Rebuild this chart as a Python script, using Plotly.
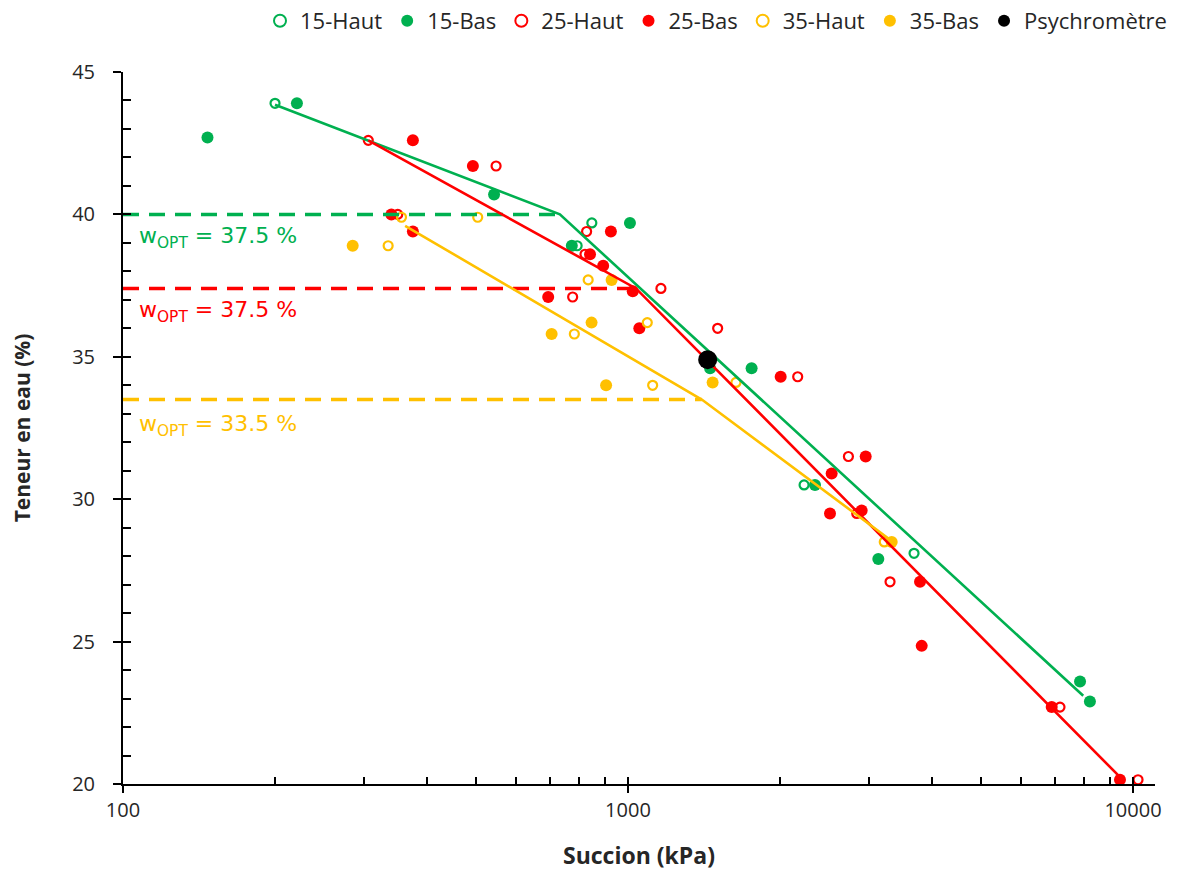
import plotly.graph_objects as go

# Succion (kPa) / teneur en eau (%) par série
haut15_x = [200, 848, 793, 2232, 3685]
haut15_y = [43.9, 39.7, 38.9, 30.5, 28.1]
bas15_x = [147, 221, 543, 774, 1009, 1454, 1757, 2346, 3131, 7855, 8217]
bas15_y = [42.7, 43.9, 40.7, 38.9, 39.7, 34.6, 34.6, 30.5, 27.9, 23.6, 22.9]

haut25_x = [306, 350, 548, 828, 822, 777, 1162, 1505, 2168, 2732, 2838, 3303, 7169, 10233]
haut25_y = [42.6, 40.0, 41.7, 39.4, 38.6, 37.1, 37.4, 36.0, 34.3, 31.5, 29.5, 27.1, 22.7, 20.15]
bas25_x = [340, 375, 493, 375, 695, 925, 841, 893, 1022, 1053, 2006, 2956, 2531, 2512,
           2902, 3787, 3816, 6903, 9424]
bas25_y = [40.0, 42.6, 41.7, 39.4, 37.1, 39.4, 38.6, 38.2, 37.3, 36.0, 34.3, 31.5, 30.9, 29.5,
           29.6, 27.1, 24.85, 22.7, 20.15]

haut35_x = [335, 356, 504, 834, 783, 1092, 1119, 1636, 3217]
haut35_y = [38.9, 39.9, 39.9, 37.7, 35.8, 36.2, 34.0, 34.1, 28.5]
bas35_x = [285, 706, 847, 905, 928, 1471, 3328]
bas35_y = [38.9, 35.8, 36.2, 34.0, 37.7, 34.1, 28.5]

psy_x = [1438]
psy_y = [34.9]

# Courbes bilinéaires ajustées
fit15_x = [200, 733, 7970]
fit15_y = [43.85, 40.0, 23.1]
fit25_x = [306, 1037, 9600]
fit25_y = [42.6, 37.4, 20.1]
fit35_x = [362, 1400, 3350]
fit35_y = [39.6, 33.5, 28.5]

# Teneurs en eau à l'optimum (niveau tracé, libellé, fin du tireté)
wopt_level = [40.0, 37.4, 33.5]
wopt_label = ["37.5 %", "37.5 %", "33.5 %"]
wopt_end = [733, 1037, 1400]

x_major = [100, 1000, 10000]
x_minor = [200, 300, 400, 500, 600, 700, 800, 900,
           2000, 3000, 4000, 5000, 6000, 7000, 8000, 9000]
y_major = [20, 25, 30, 35, 40, 45]

GREEN = "#00B050"
RED = "#FF0000"
ORANGE = "#FFC000"
colors = [GREEN, RED, ORANGE]
label_drop = [0.8, 0.8, 0.92]   # écart vertical libellé / tireté

TXT = "Open Sans, Noto Sans, sans-serif"
ANN = "DejaVu Sans, sans-serif"
INK = "#262626"

fig = go.Figure()


def open_marker(c):
    return dict(symbol="circle-open", size=9, color=c, line=dict(width=2.2, color=c))


def full_marker(c):
    return dict(symbol="circle", size=12, color=c)


series = [
    ("15-Haut", haut15_x, haut15_y, open_marker(GREEN)),
    ("15-Bas", bas15_x, bas15_y, full_marker(GREEN)),
    ("25-Haut", haut25_x, haut25_y, open_marker(RED)),
    ("25-Bas", bas25_x, bas25_y, full_marker(RED)),
    ("35-Haut", haut35_x, haut35_y, open_marker(ORANGE)),
    ("35-Bas", bas35_x, bas35_y, full_marker(ORANGE)),
]
for name, xs, ys, mk in series:
    fig.add_trace(go.Scatter(x=xs, y=ys, mode="markers", name=name, marker=mk,
                             cliponaxis=False))

# Tiretés horizontaux de w_OPT
for lvl, xe, c in zip(wopt_level, wopt_end, colors):
    fig.add_trace(go.Scatter(x=[100, xe], y=[lvl, lvl], mode="lines", showlegend=False,
                             line=dict(color=c, width=3.5, dash="16px,10px"),
                             hoverinfo="skip"))

# Ajustements
for xs, ys, c in [(fit15_x, fit15_y, GREEN), (fit25_x, fit25_y, RED), (fit35_x, fit35_y, ORANGE)]:
    fig.add_trace(go.Scatter(x=xs, y=ys, mode="lines", showlegend=False,
                             line=dict(color=c, width=2.6), hoverinfo="skip"))

fig.add_trace(go.Scatter(x=psy_x, y=psy_y, mode="markers", name="Psychromètre",
                         marker=dict(symbol="circle", size=19, color="black")))

# Axe secondaire superposé : graduations intérieures
fig.add_trace(go.Scatter(x=[], y=[], xaxis="x2", yaxis="y2", showlegend=False))

for lvl, lab, c, dy in zip(wopt_level, wopt_label, colors, label_drop):
    fig.add_annotation(x=0.0135, xref="paper", xanchor="left",
                       y=lvl - dy, yref="y", yanchor="middle",
                       text=f"w<sub>OPT</sub> = {lab}", showarrow=False,
                       font=dict(family=ANN, size=22, color=c))

xr = [2, 4.0436]
fig.update_layout(
    width=1179, height=871,
    margin=dict(l=123, r=24, t=72, b=87, autoexpand=False),
    plot_bgcolor="white", paper_bgcolor="white",
    font=dict(family=TXT, color=INK),
    showlegend=True,
    legend=dict(orientation="h", x=(1172 - 123) / 1032, xanchor="right",
                y=1.0 + 72 / 712, yanchor="top",
                xref="paper", font=dict(family=TXT, size=22, color=INK),
                bgcolor="rgba(0,0,0,0)", itemsizing="constant", itemwidth=30,
                tracegroupgap=0),
    xaxis=dict(type="log", range=xr, tickvals=x_major, ticktext=["100", "1000", "10000"],
               ticks="outside", ticklen=7, tickwidth=1.5, tickcolor="black",
               showline=True, linecolor="black", linewidth=2, showgrid=False,
               zeroline=False, tickfont=dict(family=TXT, size=20, color=INK),
               title=dict(text="<b>Succion (kPa)</b>", standoff=26,
                          font=dict(family=TXT, size=23, color=INK))),
    yaxis=dict(range=[20, 45], tickvals=y_major, ticks="outside", ticklen=8, tickwidth=1.5,
               tickcolor="black", showline=True, linecolor="black", linewidth=2,
               showgrid=False, zeroline=False, ticklabelstandoff=14,
               tickfont=dict(family=TXT, size=20, color=INK),
               title=dict(text="<b>Teneur en eau (%)</b>", standoff=36,
                          font=dict(family=TXT, size=21, color=INK))),
    xaxis2=dict(type="log", range=xr, overlaying="x", anchor="y2", side="bottom",
                tickvals=x_minor + x_major, ticks="inside", ticklen=7, tickwidth=1.5,
                tickcolor="black", showticklabels=False, showgrid=False, zeroline=False,
                showline=False),
    yaxis2=dict(range=[20, 45], overlaying="y", anchor="x2", side="left", dtick=1,
                tick0=20, ticks="inside", ticklen=8, tickwidth=1.5, tickcolor="black",
                showticklabels=False, showgrid=False, zeroline=False, showline=False),
)

fig.write_html("out.html")
